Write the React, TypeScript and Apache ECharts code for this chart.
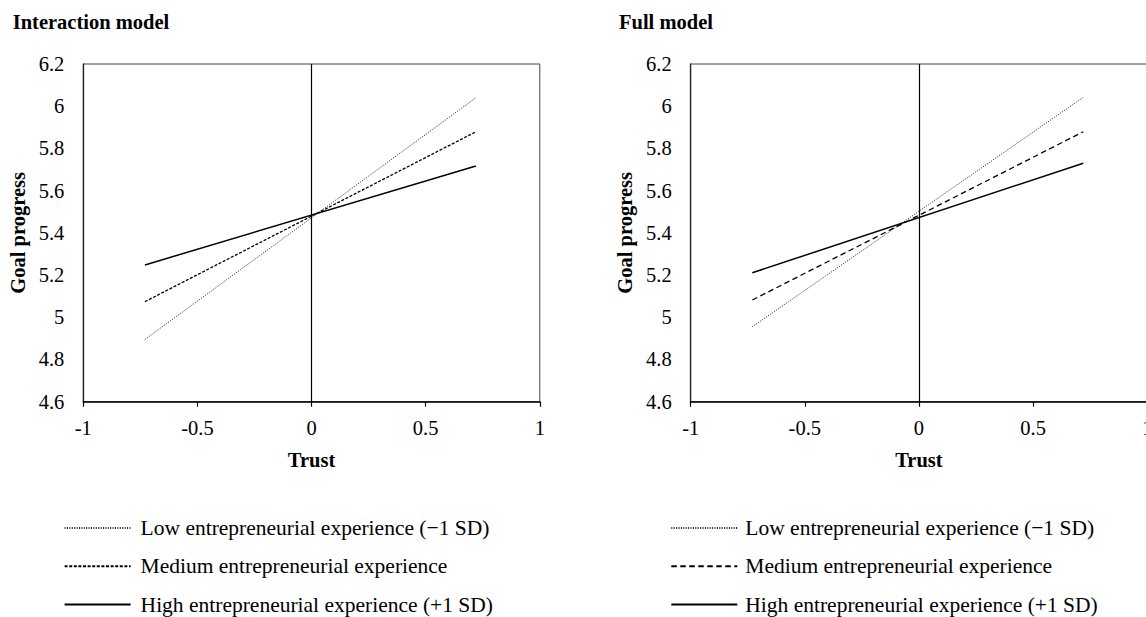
import React, { useEffect, useRef } from "react";
import * as echarts from "echarts";

// Trust at -1 SD / +1 SD (centred)
const trustLevels = [-0.73, 0.72];

// Predicted goal progress, interaction model
const interLow = [4.895, 6.04];
const interMed = [5.074, 5.879];
const interHigh = [5.248, 5.717];

// Predicted goal progress, full model
const fullLow = [4.955, 6.042];
const fullMed = [5.082, 5.879];
const fullHigh = [5.211, 5.73];

const panelTitles = ["Interaction model", "Full model"];
const legendLabels = [
  "Low entrepreneurial experience (\u22121 SD)",
  "Medium entrepreneurial experience",
  "High entrepreneurial experience (+1 SD)",
];
const xAxisName = "Trust";
const yAxisName = "Goal progress";

const FONT = "Liberation Serif";

const GRID_TOP = 64;
const GRID_W = 456.5;
const GRID_H = 337.7;
const GRID_LEFTS = [83.3, 690.7];

function buildOption() {
  const panels = [
    { low: interLow, med: interMed, high: interHigh, medDash: [3, 1.6], keys: ["lowA", "medA", "highA"] },
    { low: fullLow, med: fullMed, high: fullHigh, medDash: [5.5, 3.5], keys: ["lowB", "medB", "highB"] },
  ];

  const labelOf: Record<string, string> = {};
  panels.forEach((p) => p.keys.forEach((k, i) => (labelOf[k] = legendLabels[i])));

  const grids = GRID_LEFTS.map((left) => ({
    left,
    top: GRID_TOP,
    width: GRID_W,
    height: GRID_H,
    show: true,
    borderColor: "#444",
    borderWidth: 1,
    backgroundColor: "transparent",
  }));

  const xAxes = GRID_LEFTS.map((_, i) => ({
    type: "value",
    gridIndex: i,
    min: -1,
    max: 1,
    interval: 0.5,
    splitLine: { show: false },
    axisLine: { show: true, onZero: false, lineStyle: { color: "#000", width: 1.5 } },
    axisTick: { show: true, length: 5, lineStyle: { color: "#000", width: 1.2 } },
    axisLabel: { color: "#000", fontFamily: FONT, fontSize: 20.5, margin: 16 },
    name: xAxisName,
    nameLocation: "middle",
    nameGap: 48,
    nameTextStyle: { color: "#000", fontFamily: FONT, fontSize: 20.5, fontWeight: "bold" },
  }));

  const yAxes = GRID_LEFTS.map((_, i) => ({
    type: "value",
    gridIndex: i,
    min: 4.6,
    max: 6.2,
    interval: 0.2,
    splitLine: { show: false },
    axisLine: { show: true, onZero: false, lineStyle: { color: "#222", width: 1.3 } },
    axisTick: { show: false },
    axisLabel: { color: "#000", fontFamily: FONT, fontSize: 20.5, margin: 19 },
    name: yAxisName,
    nameLocation: "middle",
    nameRotate: 90,
    nameGap: 55,
    nameTextStyle: { color: "#000", fontFamily: FONT, fontSize: 20.5, fontWeight: "bold" },
  }));

  const series: any[] = [];
  panels.forEach((p, i) => {
    const mk = (name: string, values: number[], type: any, width: number, color: string) => ({
      type: "line",
      name,
      xAxisIndex: i,
      yAxisIndex: i,
      data: trustLevels.map((x, k) => [x, values[k]]),
      symbol: "none",
      silent: true,
      lineStyle: { color, width, type },
      itemStyle: { color },
      z: 3,
    });
    const low = mk(p.keys[0], p.low, [1, 1.4], 1, "#222");
    (low as any).markLine = {
      silent: true,
      symbol: ["none", "none"],
      label: { show: false },
      lineStyle: { color: "#000", width: 1.2, type: "solid" },
      data: [{ xAxis: 0 }],
    };
    series.push(low);
    series.push(mk(p.keys[1], p.med, p.medDash, 1.3, "#000"));
    series.push(mk(p.keys[2], p.high, "solid", 1.5, "#000"));
  });

  const legendLefts = [63.6, 670.3];
  const legends = panels.map((p, i) => ({
    data: p.keys,
    orient: "vertical",
    left: legendLefts[i],
    top: 517,
    padding: 0,
    itemWidth: 66,
    itemHeight: 14,
    itemGap: 16.3,
    selectedMode: false,
    itemStyle: { opacity: 0 },
    formatter: (n: string) => labelOf[n],
    textStyle: {
      color: "#000",
      fontFamily: FONT,
      fontSize: 21.5,
      lineHeight: 22,
      padding: [0, 0, 0, i === 0 ? 5 : 3],
    },
  }));

  const titles = panelTitles.map((text, i) => ({
    text,
    left: i === 0 ? 12.7 : 619,
    top: 11.5,
    padding: 0,
    textStyle: { color: "#000", fontFamily: FONT, fontSize: 20.5, fontWeight: "bold" },
  }));

  return {
    animation: false,
    backgroundColor: "#fff",
    title: titles,
    legend: legends,
    grid: grids,
    xAxis: xAxes,
    yAxis: yAxes,
    series,
  };
}

export default function App() {
  const ref = useRef<HTMLDivElement>(null);
  useEffect(() => {
    if (!ref.current) return;
    const chart = echarts.init(ref.current, undefined, { renderer: "svg" });
    chart.setOption(buildOption() as any);
    return () => chart.dispose();
  }, []);
  // The right-hand panel runs slightly past the frame, so the canvas is wider than the visible window.
  return (
    <div
      style={{
        position: "fixed",
        left: 0,
        top: 0,
        width: 1146,
        height: 617,
        overflow: "hidden",
        background: "#fff",
      }}
    >
      <div ref={ref} style={{ width: 1220, height: 617 }} />
    </div>
  );
}
